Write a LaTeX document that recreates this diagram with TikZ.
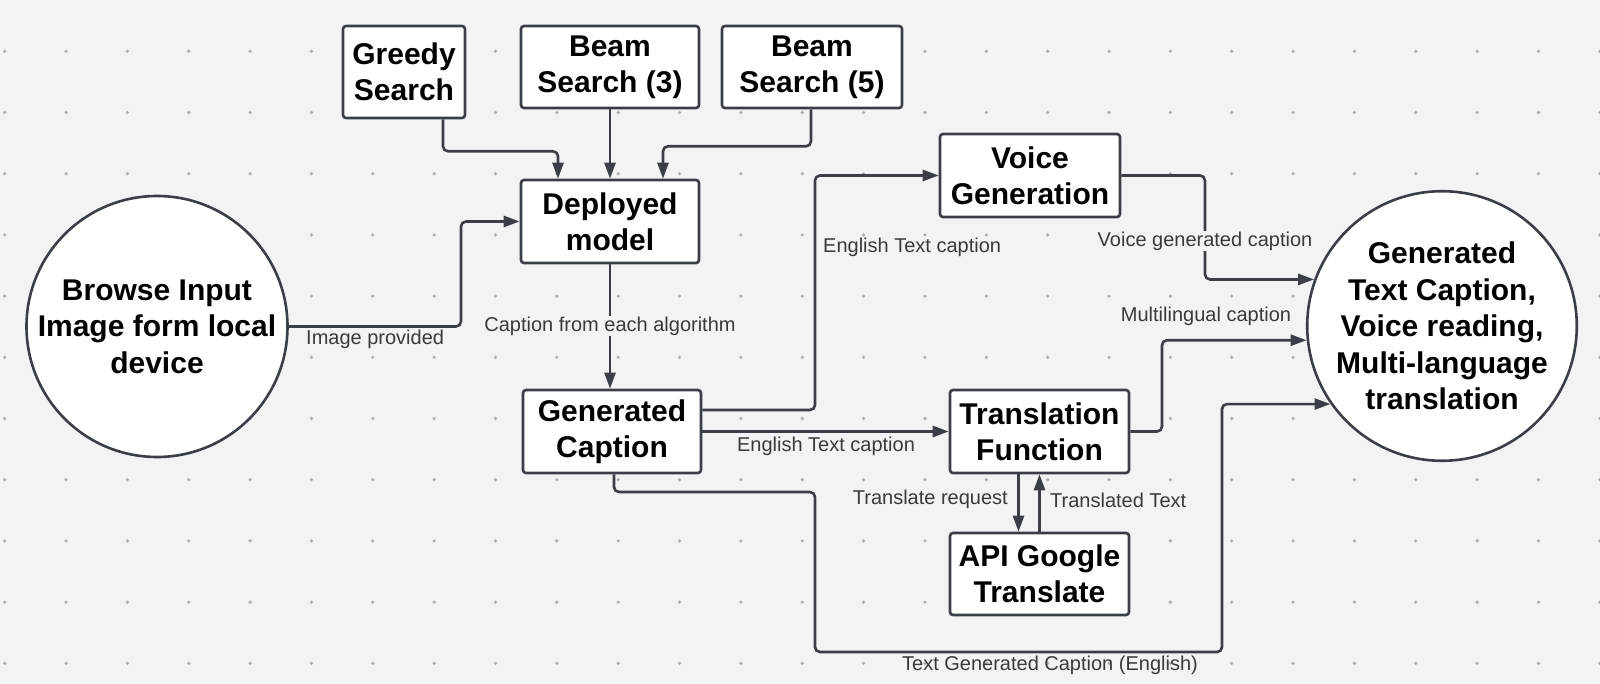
\documentclass[tikz,border=0pt]{standalone}
\usepackage{fontspec}
\setmainfont{Liberation Sans}
\usetikzlibrary{arrows.meta}
\definecolor{bg}{HTML}{F2F3F5}
\definecolor{ln}{HTML}{3A3F47}
\definecolor{dotc}{HTML}{ABAEB3}
\definecolor{lab}{HTML}{3A3A3A}
\begin{document}
\begin{tikzpicture}[x=1pt,y=-1pt,
  box/.style={draw=ln, line width=2.6pt, fill=white, rounded corners=3pt, align=center,
    font=\fontsize{30}{36}\selectfont\bfseries, inner sep=0pt},
  circ/.style={draw=ln, line width=2.6pt, fill=white, circle, align=center,
    font=\fontsize{30}{36.5}\selectfont\bfseries, inner sep=0pt},
  conn/.style={draw=ln, line width=2.6pt, rounded corners=5pt, -{Triangle[length=16pt,width=11pt]}},
  lbl/.style={font=\fontsize{20}{24}\selectfont, text=lab, inner sep=1pt},
]
\fill[bg] (0,0) rectangle (1600,684);
\useasboundingbox (0,0) rectangle (1600,684);
\foreach \i in {0,...,26} {
  \foreach \j in {0,...,10} {
    \fill[dotc] (4.7+\i*61.35, 51.3+\j*61.2) circle (1.8pt);
  }
}
% nodes
\node[box, minimum width=122pt, minimum height=92pt] (greedy) at (404,72) {Greedy\\Search};
\node[box, minimum width=178pt, minimum height=82pt] (beam3) at (610,67) {Beam\\Search (3)};
\node[box, minimum width=180pt, minimum height=82pt] (beam5) at (812,67) {Beam\\Search (5)};
\node[box, minimum width=178pt, minimum height=83pt] (deployed) at (610,221.5) {Deployed\\model};
\node[box, minimum width=178pt, minimum height=83pt] (gencap) at (612,431.5) {Generated\\Caption};
\node[box, minimum width=180pt, minimum height=83pt] (voice) at (1030,175.5) {Voice\\Generation};
\node[box, minimum width=179pt, minimum height=83pt] (trans) at (1039.5,431.5) {Translation\\Function};
\node[box, minimum width=179pt, minimum height=82pt] (api) at (1039.5,574) {API Google\\Translate};
\node[circ, minimum size=261pt] (browse) at (157,326.5) {Browse Input\\Image form local\\device};
\node[circ, minimum size=262pt] (out) at (1442,326) {Generated\\Text Caption,\\Voice reading,\\Multi-language\\translation};
% helper coordinates
\coordinate (cx1) at (461,0);
\coordinate (cx2) at (815,0);
\coordinate (k1) at (815,492);
\coordinate (k2) at (1222,652);
\coordinate (cx3) at (1205,0);
\coordinate (cx4) at (1162,0);
% connectors
\draw[conn] ([xshift=39pt]greedy.south) -- ++(0,32) -| ([xshift=-52pt]deployed.north);
\draw[conn] (beam3.south) -- (deployed.north);
\draw[conn] ([xshift=-1pt]beam5.south) -- ++(0,37) -| ([xshift=53pt]deployed.north);
\draw[conn] (browse.east) -| (deployed.west -| cx1) -- (deployed.west);
\node[lbl, anchor=west] (limg) at (305,339) {Image provided};
\draw[conn] (deployed.south) -- (deployed.south |- gencap.north);
\node[lbl, fill=bg] (lcap) at (610,326) {Caption from each algorithm};
\draw[conn] ([yshift=21.5pt]gencap.east) -| (voice.west -| cx2) -- (voice.west);
\node[lbl, anchor=west] (leng1) at (822,247) {English Text caption};
\draw[conn] (gencap.east) -- (trans.west);
\node[lbl] (leng2) at (826,446) {English Text caption};
\draw[conn] ([xshift=2pt]gencap.south) |- (k1) |- (k2) |- (out.215.5);
\node[lbl] (ltg) at (1050,665) {Text Generated Caption (English)};
\draw[conn] (voice.east) -| (out.160 -| cx3) -- (out.160);
\node[lbl, fill=bg] (lvoice) at (1205,241) {Voice generated caption};
\draw[conn] (trans.east) -| (out.186 -| cx4) -- (out.186);
\node[lbl] (lmulti) at (1206,316) {Multilingual caption};
\draw[conn] ([xshift=-21pt]trans.south) -- ([xshift=-21pt]api.north);
\node[lbl, anchor=east] (lreq) at (1009,499) {Translate request};
\draw[conn] (api.north) -- (trans.south);
\node[lbl, anchor=west] (ltt) at (1049,500) {Translated Text};
\end{tikzpicture}
\end{document}
